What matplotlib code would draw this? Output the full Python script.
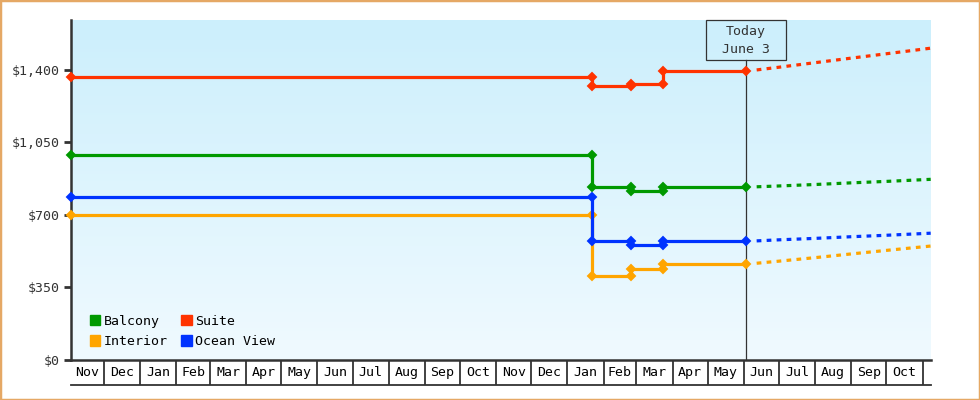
import numpy as np
import pandas as pd
import matplotlib
matplotlib.use('Agg')
import matplotlib.pyplot as plt
import matplotlib.dates as mdates
import matplotlib.transforms as mtransforms
from matplotlib.patches import Patch, Rectangle

plt.rcParams['font.family'] = 'DejaVu Sans Mono'
plt.rcParams['font.size'] = 9.5
plt.rcParams['lines.scale_dashes'] = False

# price history (step changes: old value then new value on the same date)
hist_dates = ['2023-11-03', '2025-01-22', '2025-01-22', '2025-02-24',
              '2025-02-24', '2025-03-24', '2025-03-24', '2025-06-03']
balcony_hist = [988, 988, 834, 834, 816, 816, 834, 834]
interior_hist = [700, 700, 407, 407, 441, 441, 465, 465]
suite_hist = [1368, 1368, 1323, 1323, 1332, 1332, 1395, 1395]
ocean_hist = [785, 785, 573, 573, 554, 554, 573, 573]

# projected prices
proj_dates = ['2025-06-12', '2025-07-01', '2025-08-01', '2025-09-01',
              '2025-10-01', '2025-11-08']
balcony_proj = [836, 840, 847, 855, 862, 872]
interior_proj = [467, 477, 494, 512, 529, 550]
suite_proj = [1400, 1413, 1435, 1457, 1478, 1505]
ocean_proj = [575, 580, 587, 595, 602, 612]

names = ['Balcony', 'Interior', 'Suite', 'Ocean View']
colors = ['#009900', '#ffa500', '#ff3300', '#0033ff']

x_start, x_end = '2023-11-03', '2025-11-08'
today = '2025-06-03'
y_ticks = [0, 350, 700, 1050, 1400]
y_labels = ['$0', '$350', '$700', '$1,050', '$1,400']

dark = '#333333'

fig = plt.figure(figsize=(9.8, 4), dpi=100)
left, right = 71 / 980, 930.7 / 980
ax = fig.add_axes([left, 40 / 400, right - left, 340 / 400])

# background gradient
top_c = np.array([204, 239, 252]) / 255
bot_c = np.array([240, 250, 255]) / 255
t = np.linspace(0, 1, 256)[:, None]
grad = (top_c * (1 - t) + bot_c * t)[:, None, :]
ax.imshow(grad, extent=[0, 1, 0, 1], transform=ax.transAxes, aspect='auto', zorder=0)

hd = pd.to_datetime(hist_dates)
pdts = pd.to_datetime(proj_dates)
series = {
    'Interior': (interior_hist, interior_proj),
    'Balcony': (balcony_hist, balcony_proj),
    'Suite': (suite_hist, suite_proj),
    'Ocean View': (ocean_hist, ocean_proj),
}
for name in ['Interior', 'Balcony', 'Suite', 'Ocean View']:
    c = colors[names.index(name)]
    h, p = series[name]
    ax.plot(hd, h, color=c, lw=2.3, marker='D', ms=4.5, mew=1.4, zorder=4, clip_on=False)
    ax.plot(pdts, p, color=c, lw=2.3, dashes=(3.4, 3.8), zorder=4, solid_capstyle='butt')

xmin = mdates.date2num(pd.Timestamp(x_start))
xmax = mdates.date2num(pd.Timestamp(x_end))
ax.set_xlim(xmin, xmax)
ax.set_ylim(0, 1641)
ax.set_yticks(y_ticks)
ax.set_yticklabels(y_labels, color=dark)
ax.tick_params(axis='y', length=5, width=2, color=dark, pad=3)
ax.set_xticks([])
for s in ['top', 'right']:
    ax.spines[s].set_visible(False)
for s in ['left', 'bottom']:
    ax.spines[s].set_color(dark)
    ax.spines[s].set_linewidth(1.8)

# today marker
tx = mdates.date2num(pd.Timestamp(today))
blend = mtransforms.blended_transform_factory(ax.transData, ax.transAxes)
ax.axvline(tx, ymin=0, ymax=0.882, color=dark, lw=0.9, zorder=3)
ax.add_patch(Rectangle((tx - 34, 0.882), 68.5, 0.118, transform=blend,
                       fill=False, ec=dark, lw=0.9, zorder=5, clip_on=False))
ax.text(tx, 0.965, 'Today', transform=blend, ha='center', va='center', color=dark)
ax.text(tx, 0.912, 'June 3', transform=blend, ha='center', va='center', color=dark)

# legend
handles = [Patch(color=c, label=n) for n, c in zip(names, colors)]
ax.legend(handles=handles, ncol=2, loc='lower left', bbox_to_anchor=(0.022, 0.035),
          frameon=False, handlelength=0.8, handleheight=0.8, handletextpad=0.25,
          columnspacing=1.0, labelspacing=0.55, borderpad=0, borderaxespad=0)

# month boxes under the axis
axm = fig.add_axes([left, 15 / 400, right - left, 25 / 400])
axm.set_xlim(xmin, xmax)
axm.set_ylim(0, 1)
axm.axis('off')
axm.axhline(0, color=dark, lw=1.3, clip_on=False)
months = pd.date_range('2023-11-01', '2025-12-01', freq='MS')
for i in range(len(months) - 1):
    a = max(mdates.date2num(months[i]), xmin)
    b = min(mdates.date2num(months[i + 1]), xmax)
    if xmin < mdates.date2num(months[i]) < xmax:
        axm.axvline(mdates.date2num(months[i]), color=dark, lw=1.3)
    if b - a >= 15:
        axm.text((a + b) / 2, 0.5, months[i].strftime('%b'), ha='center', va='center', color='black')

# outer border
fig.patches.append(Rectangle((0, 0), 1, 1, transform=fig.transFigure, fill=False,
                             ec='#e5a865', lw=2.5, zorder=10))

fig.savefig('out.png', dpi=100)
